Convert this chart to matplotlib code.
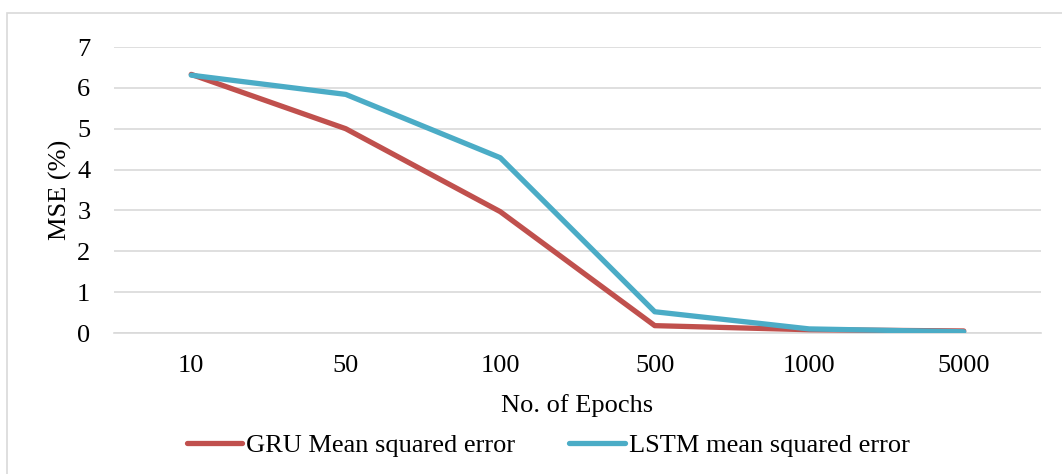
import matplotlib
matplotlib.use("Agg")
import matplotlib.pyplot as plt
from matplotlib.patches import Rectangle

epochs = ["10", "50", "100", "500", "1000", "5000"]
gru_mse = [6.33, 5.0, 2.97, 0.18, 0.08, 0.05]
lstm_mse = [6.31, 5.84, 4.29, 0.52, 0.10, 0.03]
yticks = [0, 1, 2, 3, 4, 5, 6, 7]

plt.rcParams['font.family'] = ['Liberation Serif', 'DejaVu Serif']
FS = 19

W, H = 1062, 474
fig = plt.figure(figsize=(W / 100, H / 100), dpi=100)
ax = fig.add_axes([114 / W, 1 - 333 / H, (1041 - 114) / W, (333 - 47) / H])

x = list(range(len(epochs)))
ax.plot(x, gru_mse, color='#C0504D', lw=3.8, solid_capstyle='round',
        solid_joinstyle='round', label='GRU Mean squared error', zorder=3)
ax.plot(x, lstm_mse, color='#4BACC6', lw=3.8, solid_capstyle='round',
        solid_joinstyle='round', label='LSTM mean squared error', zorder=4)

ax.set_xlim(-0.5, len(epochs) - 0.5)
ax.set_ylim(0, 7)
ax.set_yticks(yticks)
ax.set_xticks(x)
ax.set_xticklabels(epochs)
ax.grid(axis='y', color='#D9D9D9', lw=1.2)
ax.set_axisbelow(True)
for s in ['top', 'right', 'left']:
    ax.spines[s].set_visible(False)
ax.spines['bottom'].set_color('#D9D9D9')
ax.spines['bottom'].set_linewidth(1.2)
ax.tick_params(axis='both', length=0, labelsize=FS, colors='black')
ax.tick_params(axis='y', pad=17)
ax.tick_params(axis='x', pad=16)
ax.set_ylabel('MSE (%)', fontsize=FS, labelpad=4)
ax.set_xlabel('No. of Epochs', fontsize=FS, labelpad=12)

leg = fig.legend(loc='center', bbox_to_anchor=(548 / W, 1 - 445 / H), ncol=2,
                 frameon=False, fontsize=FS, handlelength=2.1,
                 handletextpad=0.15, columnspacing=2.05)

fig.patches.append(Rectangle((7 / W, -0.1), 1.2, 1.1 - 13 / H,
                             transform=fig.transFigure, fill=False,
                             edgecolor='#D9D9D9', lw=1.2, clip_on=False))

fig.savefig('out.png', dpi=100)
